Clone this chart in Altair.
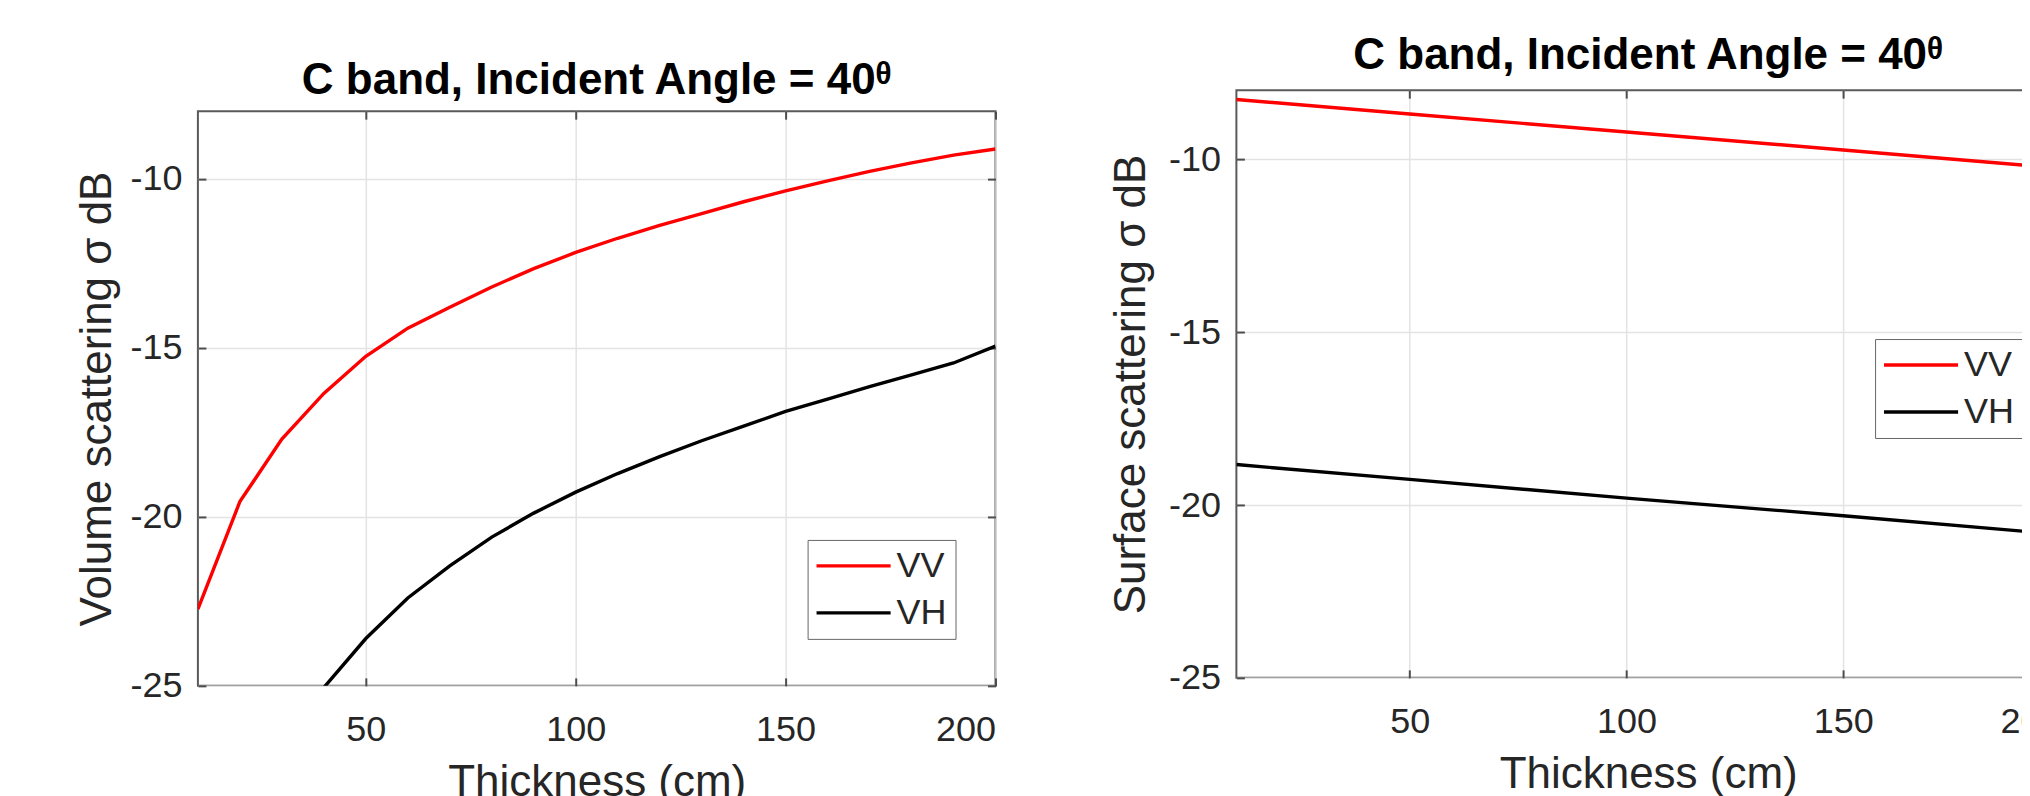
import altair as alt
import pandas as pd

# ---- data ----
vol_x = [10, 20, 30, 40, 50, 60, 70, 80, 90, 100, 110, 120, 130, 140, 150, 160, 170, 180, 190, 200]
vol_vv = [-22.73, -19.55, -17.70, -16.35, -15.25, -14.42, -13.80, -13.20, -12.66, -12.18,
          -11.76, -11.38, -11.03, -10.68, -10.36, -10.06, -9.78, -9.53, -9.30, -9.12]
vol_vh_x = [40, 50, 60, 70, 80, 90, 100, 110, 120, 130, 140, 150, 160, 170, 180, 190, 200]
vol_vh = [-25.05, -23.60, -22.40, -21.45, -20.60, -19.89, -19.27, -18.72, -18.22, -17.75,
          -17.32, -16.88, -16.52, -16.15, -15.80, -15.45, -14.95]

surf_x = [10, 50, 100, 150, 200]
surf_vv = [-8.27, -8.69, -9.21, -9.73, -10.26]
surf_vh = [-18.83, -19.26, -19.80, -20.31, -20.85]

series_names = ["VV", "VH"]
series_colors = ["#ff0000", "#000000"]
x_ticks = [50, 100, 150, 200]
y_ticks = [-25, -20, -15, -10]
title_text = "C band, Incident Angle = 40ᶿ"

vol_df = pd.DataFrame(
    {"thickness": vol_x + vol_vh_x,
     "value": vol_vv + vol_vh,
     "series": ["VV"] * len(vol_x) + ["VH"] * len(vol_vh_x)}
)
surf_df = pd.DataFrame(
    {"thickness": surf_x + surf_x,
     "value": surf_vv + surf_vh,
     "series": ["VV"] * len(surf_x) + ["VH"] * len(surf_x)}
)

FONT = "Liberation Sans"
TEXT = "#262626"
TICK = "#4d4d4d"
X_SCALE = alt.Scale(domain=[10, 200], nice=False, zero=False)
Y_SCALE = alt.Scale(domain=[-25, -8], nice=False, zero=False)
INWARD = dict(ticks=True, tickSize=8, tickWidth=2, tickColor=TICK, offset=-8)


def panel(df, ytitle, width, height, legend_x, legend_y, ytitle_pad, title_offset):
    base = alt.Chart(df)
    lines = base.mark_line(strokeWidth=3.4, clip=True).encode(
        x=alt.X("thickness:Q", scale=X_SCALE,
                axis=alt.Axis(values=x_ticks, title="Thickness (cm)",
                              labelExpr="'' + datum.value", **INWARD)),
        y=alt.Y("value:Q", scale=Y_SCALE,
                axis=alt.Axis(values=y_ticks, title=ytitle, titlePadding=ytitle_pad,
                              labelExpr="'' + datum.value", **INWARD)),
        color=alt.Color("series:N",
                        scale=alt.Scale(domain=series_names, range=series_colors),
                        legend=alt.Legend(title=None, orient="none",
                                          legendX=legend_x, legendY=legend_y,
                                          direction="vertical",
                                          symbolType="M-2.47,0H2.47", symbolSize=900,
                                          symbolStrokeWidth=3.4, symbolOffset=20,
                                          labelFontSize=36, labelFont=FONT,
                                          labelColor=TEXT, labelOffset=25,
                                          rowPadding=11, padding=8,
                                          strokeColor="#666666", fillColor="#ffffff")),
    )
    # invisible layer that only carries the top / right tick marks of the box
    frame = base.mark_line(opacity=0, clip=True).encode(
        x=alt.X("thickness:Q", scale=X_SCALE,
                axis=alt.Axis(orient="top", values=x_ticks, labels=False, title=None,
                              grid=False, **INWARD)),
        y=alt.Y("value:Q", scale=Y_SCALE,
                axis=alt.Axis(orient="right", values=y_ticks, labels=False, title=None,
                              grid=False, **INWARD)),
    )
    return alt.layer(lines, frame).resolve_axis(x="independent", y="independent").properties(
        width=width, height=height,
        title=alt.TitleParams(text=title_text, fontSize=44, fontWeight="bold",
                              font=FONT, color="#000000", offset=title_offset),
    )


def spacer(h):
    return alt.Chart(pd.DataFrame({"a": [0]})).mark_point(opacity=0).encode(
        x=alt.X("a:Q", axis=None), y=alt.Y("a:Q", axis=None)
    ).properties(width=10, height=h, view=alt.ViewBackground(stroke="transparent"))


left = panel(vol_df, "Volume scattering σ dB", 798, 575, 610, 512, 10, 7)
right = panel(surf_df, "Surface scattering σ dB", 824, 588, 639, 311, 15, 11)

chart = alt.hconcat(
    alt.vconcat(spacer(29), left, spacing=0),
    alt.vconcat(spacer(1), right, spacing=0),
    spacing=110,
).resolve_scale(
    color="independent", x="independent", y="independent"
).resolve_legend(color="independent").properties(
    padding={"left": 66, "top": 16, "right": -40, "bottom": 0}
).configure_view(
    stroke="#5a5a5a", strokeWidth=2
).configure_axis(
    labelFont=FONT, labelFontSize=36, labelColor=TEXT,
    titleFont=FONT, titleFontSize=44, titleColor=TEXT, titleFontWeight="normal",
    grid=True, gridColor="#e3e3e3", gridWidth=1.5,
    domain=False,
).configure_axisX(
    labelPadding=27, titlePadding=13
).configure_axisY(
    labelPadding=16
)

chart.save("out.html", embed_options={"renderer": "svg", "actions": False})
